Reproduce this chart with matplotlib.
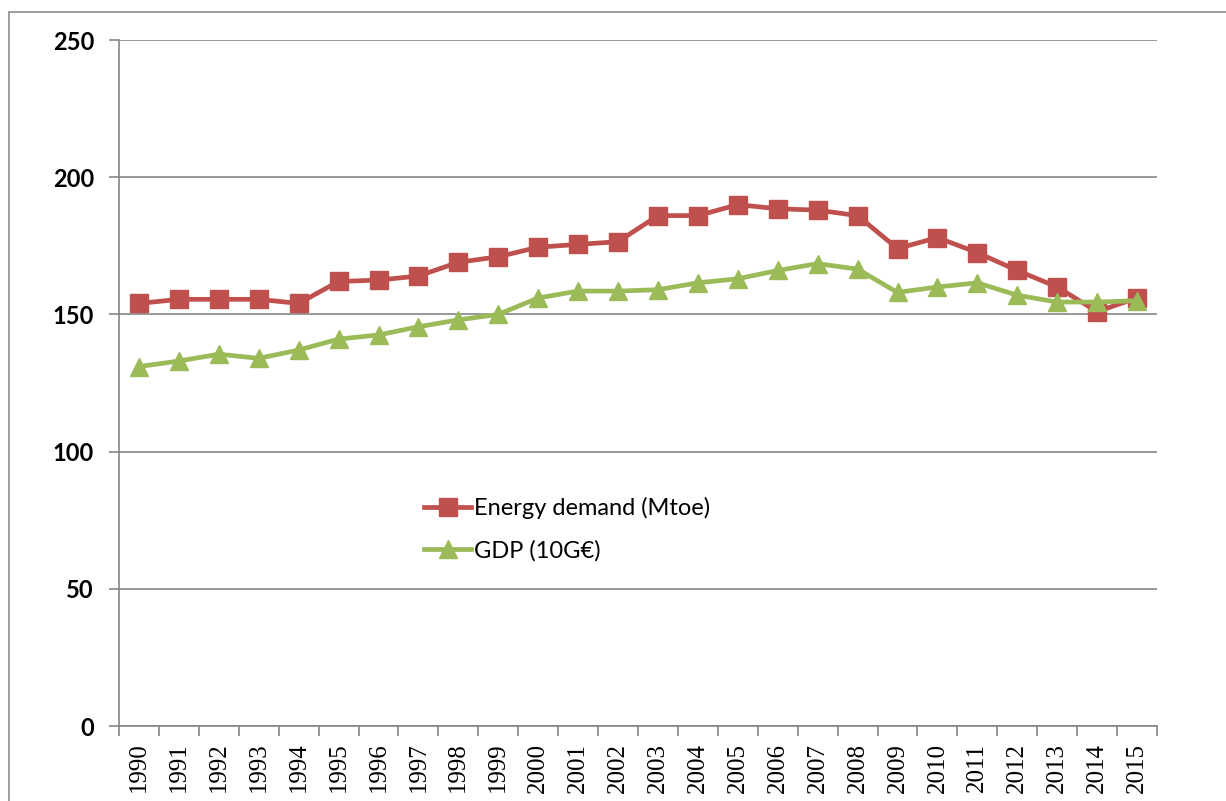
import matplotlib.pyplot as plt
from matplotlib.patches import Rectangle

# 数据
years = [str(y) for y in range(1990, 2016)]
energy_demand = [154, 155.5, 155.5, 155.5, 154, 162, 162.5, 164, 169, 171,
                 174.5, 175.5, 176.5, 186, 186, 190, 188.5, 188, 186, 174,
                 178, 172.5, 166, 160, 151, 156]
gdp = [131, 133, 135.5, 134, 137, 141, 142.5, 145.5, 148, 150,
       156, 158.5, 158.5, 159, 161.5, 163, 166, 168.5, 166.5, 158,
       160, 161.5, 157, 154.5, 154.5, 155]
y_ticks = [0, 50, 100, 150, 200, 250]

red = '#C0504D'
green = '#9BBB59'
grid_c = '#868686'

fig = plt.figure(figsize=(12.26, 8.01), dpi=100)

# 外框
fig.patches.append(Rectangle((9 / 1226, -0.1), 1.2, (801 - 12) / 801 + 0.1,
                             transform=fig.transFigure, fill=False,
                             edgecolor='#8c8c8c', linewidth=1.2))

ax = fig.add_axes([119 / 1226, 75 / 801, 1038 / 1226, 686 / 801])

x = list(range(len(years)))
ax.plot(x, energy_demand, color=red, linewidth=3.4, marker='s',
        markersize=13, markerfacecolor=red, markeredgecolor=red,
        label='Energy demand (Mtoe)', zorder=3)
ax.plot(x, gdp, color=green, linewidth=3.4, marker='^',
        markersize=13, markerfacecolor=green, markeredgecolor=green,
        label='GDP (10G\u20ac)', zorder=3)

ax.set_xlim(-0.5, len(years) - 0.5)
ax.set_ylim(0, 250)

# y 轴
ax.set_yticks(y_ticks)
ax.set_yticklabels([str(v) for v in y_ticks], fontsize=17, fontweight='bold',
                   family='Lato')
ax.yaxis.grid(True, color=grid_c, linewidth=1.2)
ax.set_axisbelow(True)

# x 轴：刻度在类别之间
ax.set_xticks([i - 0.5 for i in range(len(years) + 1)])
ax.set_xticklabels([])
ax.set_xticks(x, minor=True)
ax.set_xticklabels(years, minor=True, rotation=90, fontsize=18,
                   family='Liberation Serif')
ax.tick_params(axis='x', which='minor', length=0, pad=12)
ax.tick_params(axis='x', which='major', length=7, color=grid_c, width=1.2)
ax.tick_params(axis='y', length=7, color=grid_c, width=1.2, pad=11)

for side in ['top', 'right']:
    ax.spines[side].set_visible(False)
for side in ['left', 'bottom']:
    ax.spines[side].set_color(grid_c)
    ax.spines[side].set_linewidth(1.2)

leg = ax.legend(loc='upper left', bbox_to_anchor=(0.285, 0.347),
                frameon=False, prop={'family': 'Lato', 'size': 17},
                handlelength=2.0, handletextpad=0.1, labelspacing=0.85,
                borderaxespad=0)

plt.savefig('out.png', dpi=100)
